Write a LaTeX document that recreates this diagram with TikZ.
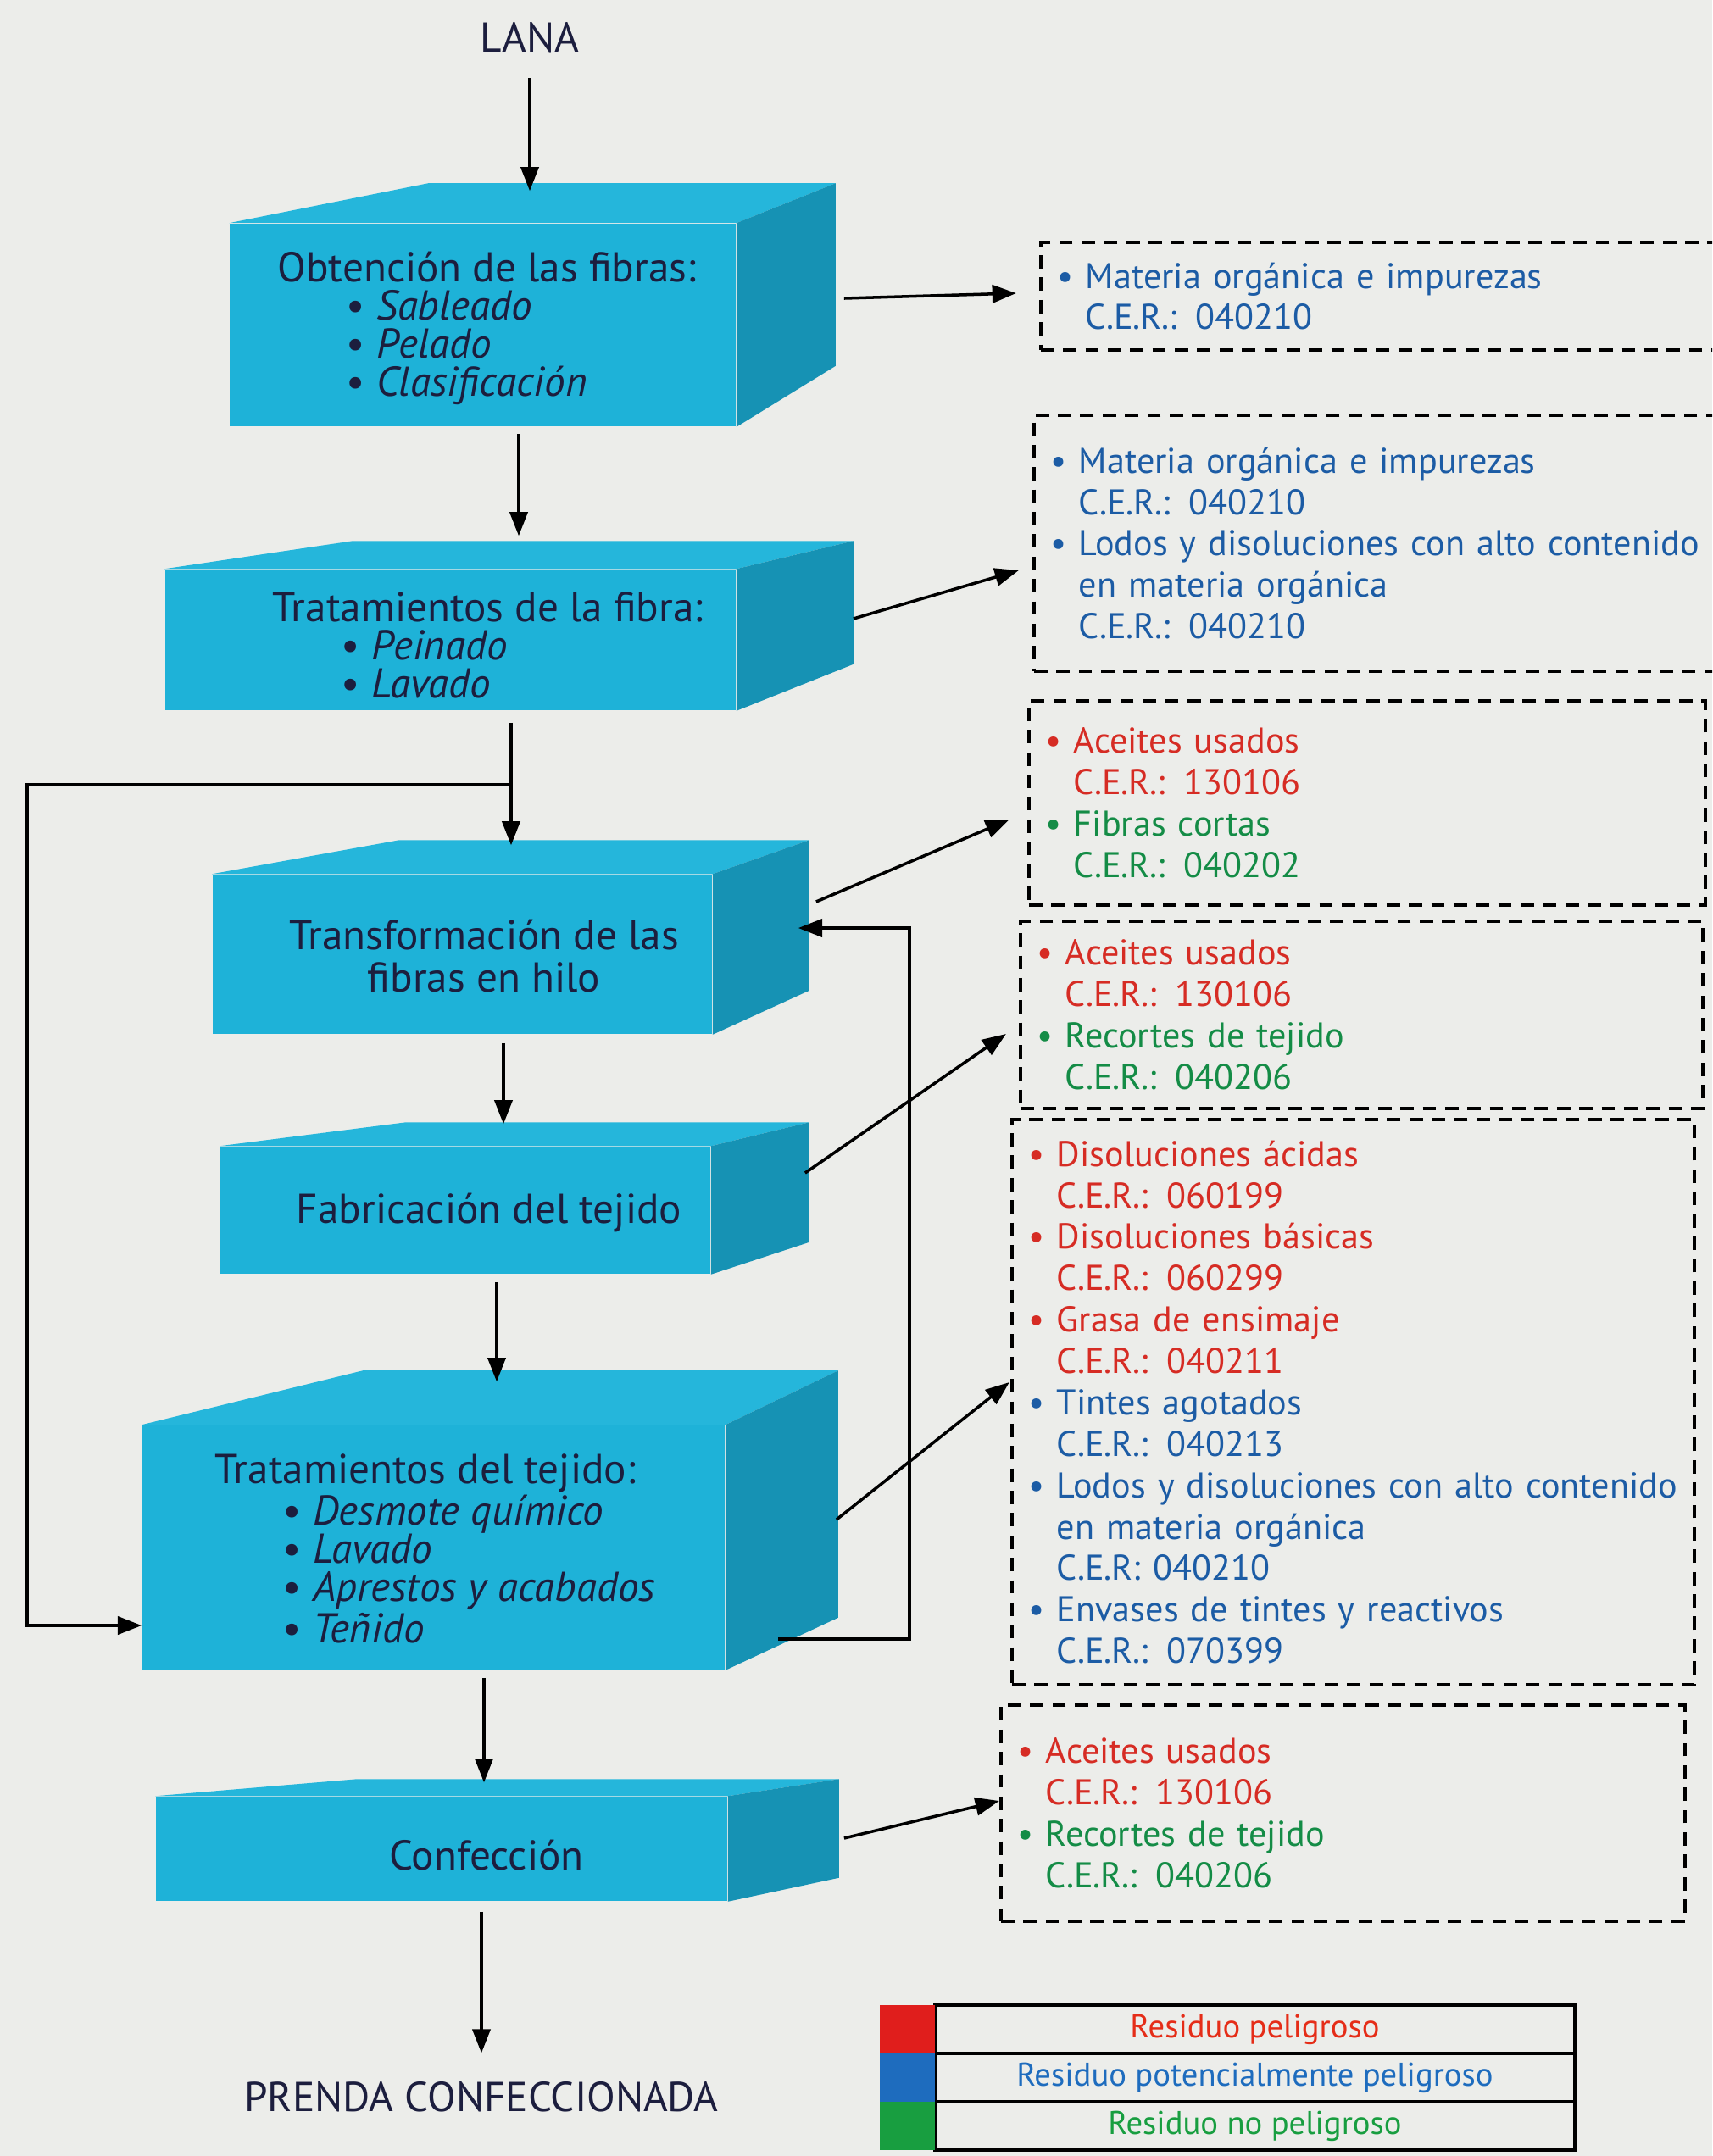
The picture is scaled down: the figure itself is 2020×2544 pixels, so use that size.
\documentclass[tikz,border=0pt]{standalone}
\usepackage{fontspec}
\setmainfont{PT Sans}
\usetikzlibrary{arrows.meta,calc}
\definecolor{paper}{RGB}{236,237,234}
\definecolor{cyanfront}{RGB}{30,178,216}
\definecolor{cyantop}{RGB}{37,182,219}
\definecolor{cyanside}{RGB}{22,146,180}
\definecolor{boxink}{RGB}{28,30,62}
\definecolor{resred}{RGB}{214,44,36}
\definecolor{resblue}{RGB}{28,92,165}
\definecolor{resgreen}{RGB}{20,140,70}
\definecolor{legred}{RGB}{224,30,28}
\definecolor{legblue}{RGB}{30,108,190}
\definecolor{leggreen}{RGB}{24,158,64}
\newcommand{\ind}{\phantom{\textbullet\ }}

\begin{document}
\begin{tikzpicture}[
        x=0.01cm, y=-0.01cm,
        front/.style={fill=cyanfront, inner sep=0pt},
        boxtxt/.style={text=boxink, inner sep=0pt, font=\fontsize{14}{12.8}\selectfont},
        restxt/.style={draw, dash pattern=on 4.5pt off 3pt, line width=1.1pt, inner xsep=0.2cm, inner ysep=0pt,
            align=left, font=\fontsize{12}{13.9}\selectfont},
        flow/.style={-{Triangle[length=8pt,width=6pt]}, line width=1pt},
        legcell/.style={draw, line width=1pt, minimum width=7.55cm, minimum height=0.57cm, inner sep=0pt,
            font=\fontsize{11}{12}\selectfont},
        swatch/.style={minimum width=0.65cm, minimum height=0.57cm, inner sep=0pt},
    ]
    \useasboundingbox (0,0) rectangle (2020,2544);
    \clip (0,0) rectangle (2020,2544);
    \fill[paper] (0,0) rectangle (2020,2544);

    \node[boxtxt] (lana) at (625,44) {LANA};
    \node[front, minimum width=5.97cm, minimum height=2.39cm] (obt) at (569.5,383.5) {};
    \node[front, minimum width=6.73cm, minimum height=1.66cm] (fib) at (531.5,755) {};
    \node[front, minimum width=5.89cm, minimum height=1.88cm] (hilo) at (545.5,1126) {};
    \node[front, minimum width=5.78cm, minimum height=1.50cm] (tej) at (549,1428) {};
    \node[front, minimum width=6.87cm, minimum height=2.88cm] (trat) at (511.5,1826) {};
    \node[front, minimum width=6.74cm, minimum height=1.23cm] (conf) at (521,2181.5) {};
    \node[boxtxt] (prenda) at (568,2474) {PRENDA CONFECCIONADA};

    \foreach \n/\dl/\dr/\dt/\db in {obt/235/117/47/72, fib/222/138/33/55, hilo/221/114/40/52,
        tej/220/116/28/38, trat/261/133/64/62, conf/238/131/20/28}{
        \fill[cyantop] (\n.north west) -- ++(\dl,-\dt) -- ($(\n.north east)+(\dr,-\dt)$) -- (\n.north east) -- cycle;
        \fill[cyanside] (\n.north east) -- ++(\dr,-\dt) -- ($(\n.south east)+(\dr,-\db)$) -- (\n.south east) -- cycle;
    }

    \node[boxtxt, anchor=west, align=left] (obt-t) at (327,387) {Obtención de las fibras:\\
        \hspace*{0.81cm}\textbullet\ \textit{Sableado}\\
        \hspace*{0.81cm}\textbullet\ \textit{Pelado}\\
        \hspace*{0.81cm}\textbullet\ \textit{Clasificación}};
    \node[boxtxt, anchor=west, align=left] (fib-t) at (321,761) {Tratamientos de la fibra:\\
        \hspace*{0.81cm}\textbullet\ \textit{Peinado}\\
        \hspace*{0.81cm}\textbullet\ \textit{Lavado}};
    \node[boxtxt, align=center, font=\fontsize{14}{14.2}\selectfont] (hilo-t) at (571,1128) {Transformación de las\\fibras en hilo};
    \node[boxtxt] (tej-t) at (577,1431) {Fabricación del tejido};
    \node[boxtxt, anchor=west, align=left] (trat-t) at (253,1827) {Tratamientos del tejido:\\
        \hspace*{0.8cm}\textbullet\ \textit{Desmote químico}\\
        \hspace*{0.8cm}\textbullet\ \textit{Lavado}\\
        \hspace*{0.8cm}\textbullet\ \textit{Aprestos y acabados}\\
        \hspace*{0.8cm}\textbullet\ \textit{Teñido}};
    \node[boxtxt] (conf-t) at (574,2189) {Confección};

    \node[restxt, text width=7.72cm, minimum height=1.27cm] (res1) at (1634,349.5) {\color{resblue}
        \textbullet\ Materia orgánica e impurezas\\\ind C.E.R.: 040210};
    \node[restxt, text width=7.8cm, minimum height=3.02cm] (res2) at (1630,641) {\color{resblue}
        \textbullet\ Materia orgánica e impurezas\\\ind C.E.R.: 040210\\
        \mbox{\textbullet\ Lodos y disoluciones con alto contenido}\\\ind en materia orgánica\\\ind C.E.R.: 040210};
    \node[restxt, text width=7.58cm, minimum height=2.41cm] (res3) at (1613,947.5) {
        {\color{resred}\textbullet\ Aceites usados\\\ind C.E.R.: 130106}\\
        {\color{resgreen}\textbullet\ Fibras cortas\\\ind C.E.R.: 040202}};
    \node[restxt, text width=7.65cm, minimum height=2.21cm] (res4) at (1606.5,1197.5) {
        {\color{resred}\textbullet\ Aceites usados\\\ind C.E.R.: 130106}\\
        {\color{resgreen}\textbullet\ Recortes de tejido\\\ind C.E.R.: 040206}};
    \node[restxt, text width=7.65cm, minimum height=6.67cm] (res5) at (1596.5,1654.5) {
        {\color{resred}\textbullet\ Disoluciones ácidas\\\ind C.E.R.: 060199}\\
        {\color{resred}\textbullet\ Disoluciones básicas\\\ind C.E.R.: 060299}\\
        {\color{resred}\textbullet\ Grasa de ensimaje\\\ind C.E.R.: 040211}\\
        {\color{resblue}\textbullet\ Tintes agotados\\\ind C.E.R.: 040213}\\
        {\color{resblue}\mbox{\textbullet\ Lodos y disoluciones con alto contenido}\\\ind en materia orgánica\\\ind C.E.R: 040210}\\
        {\color{resblue}\textbullet\ Envases de tintes y reactivos\\\ind C.E.R.: 070399}};
    \node[restxt, text width=7.67cm, minimum height=2.55cm] (res6) at (1584.5,2139.5) {
        {\color{resred}\textbullet\ Aceites usados\\\ind C.E.R.: 130106}\\
        {\color{resgreen}\textbullet\ Recortes de tejido\\\ind C.E.R.: 040206}};

    \draw[flow] ($(lana.south)+(0,30)$) -- ($(obt.north)+(55.5,-38)$);
    \draw[flow] ($(obt.south)+(42.5,8)$) -- ($(fib.north)+(80.5,-39)$);
    \draw[flow] ($(fib.south)+(71.5,14)$) -- ($(hilo.north)+(57.5,-34)$);
    \draw[flow] ($(hilo.south)+(48.5,10)$) -- ($(tej.north)+(45,-26)$);
    \draw[flow] ($(tej.south)+(37,9)$) -- ($(trat.north)+(74.5,-51)$);
    \draw[flow] ($(trat.south)+(59.5,9)$) -- ($(conf.north)+(50,-16)$);
    \draw[flow] ($(conf.south)+(47,12)$) -- ($(prenda.north)+(0,-33)$);

    \draw[flow] ($(fib.south)+(71.5,87)$) -- ++(-571,0) |- ($(trat.west)+(0,92)$);
    \draw[flow] ($(trat.east)+(62,108)$) -- ++(155,0) |- ($(hilo.east)+(101,-31)$);

    \draw[flow] ($(obt.east)+(127,-31.5)$) -- ($(res1.west)+(-27,-3.5)$);
    \draw[flow] ($(fib.east)+(138,-25)$) -- ($(res2.west)+(-16,32)$);
    \draw[flow] ($(hilo.east)+(122,-62)$) -- ($(res3.west)+(-21,19.5)$);
    \draw[flow] ($(tej.east)+(111,-44)$) -- ($(res4.west)+(-15,22.5)$);
    \draw[flow] ($(trat.east)+(131,-33)$) -- ($(res5.west)+(-1,-23.5)$);
    \draw[flow] ($(conf.east)+(137,-12.5)$) -- ($(res6.west)+(0,-14.5)$);

    \node[legcell, text=legred!85!orange] (leg1) at (1480.5,2394.5) {Residuo peligroso};
    \node[legcell, text=legblue] (leg2) at (1480.5,2451.5) {Residuo potencialmente peligroso};
    \node[legcell, text=leggreen] (leg3) at (1480.5,2508.5) {Residuo no peligroso};
    \node[swatch, fill=legred] (sw1) at (1070.5,2394.5) {};
    \node[swatch, fill=legblue] (sw2) at (1070.5,2451.5) {};
    \node[swatch, fill=leggreen] (sw3) at (1070.5,2508.5) {};
\end{tikzpicture}
\end{document}
